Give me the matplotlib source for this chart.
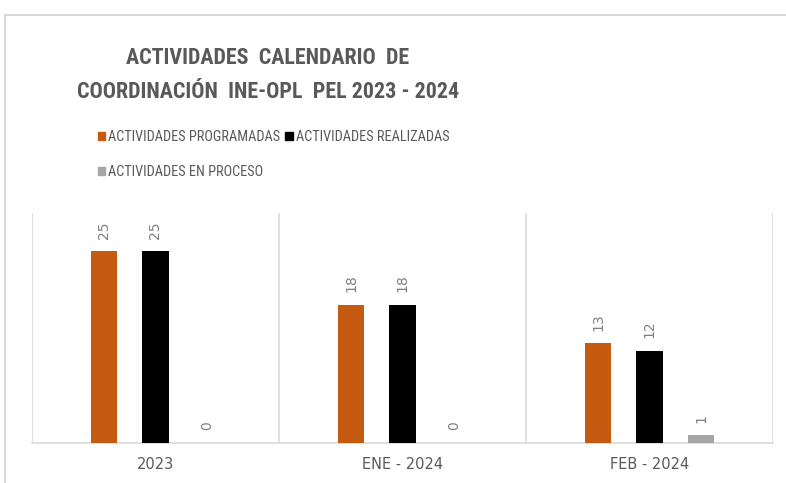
import matplotlib
matplotlib.use("Agg")
import matplotlib.pyplot as plt
from matplotlib import font_manager
from matplotlib.patches import Patch, Rectangle
import numpy as np

# Chart data
categories = ["2023", "ENE - 2024", "FEB - 2024"]
series_names = ["ACTIVIDADES PROGRAMADAS", "ACTIVIDADES REALIZADAS", "ACTIVIDADES EN PROCESO"]
programadas = [25, 18, 13]
realizadas = [25, 18, 12]
en_proceso = [0, 0, 1]
series_values = [programadas, realizadas, en_proceso]
series_colors = ["#C55A11", "#000000", "#A5A5A5"]
title_lines = ["ACTIVIDADES  CALENDARIO  DE", "COORDINACIÓN  INE-OPL  PEL 2023 - 2024"]

# look for a narrow/condensed font, the reference uses a Calibri-like face
fonts = font_manager.fontManager.ttflist
names = {f.name for f in fonts}
narrow, stretch = None, "normal"
for cand in ["Liberation Sans Narrow", "Roboto Condensed", "Open Sans Condensed", "Noto Sans Condensed"]:
    if cand in names:
        narrow = cand
        break
if narrow is None:
    cond = [f for f in fonts if f.stretch in ("condensed", "semi-condensed", "extra-condensed")]
    if cond:
        narrow, stretch = cond[0].name, "condensed"
    else:
        narrow = "DejaVu Sans"
plt.rcParams['font.family'] = [narrow, 'DejaVu Sans']
plt.rcParams['font.stretch'] = stretch
is_narrow = narrow != "DejaVu Sans" or stretch == "condensed"

W, H = 786, 483
fig = plt.figure(figsize=(W / 100, H / 100), dpi=100)

# outer chart border (clipped at right and bottom in the reference)
fig.patches.append(Rectangle((5 / W, -0.1), 1.2, 1.1 - 15 / H, transform=fig.transFigure,
                             fill=False, edgecolor="#D9D9D9", linewidth=1.5))

ax = fig.add_axes([32 / W, 1 - 443 / H, (773 - 32) / W, (443 - 213) / H])

x = np.arange(len(categories))
offset = 0.2085
width = 0.107
for j, (vals, color) in enumerate(zip(series_values, series_colors)):
    xs = x + (j - 1) * offset
    ax.bar(xs, vals, width=width, color=color, zorder=3)
    for xi, v in zip(xs, vals):
        ax.annotate(str(v), (xi, v), xytext=(0, 9.2), textcoords="offset points",
                    rotation=90, ha="center", va="bottom", fontsize=10,
                    family="DejaVu Sans", color="#808080")

ax.set_xlim(-0.5, len(categories) - 0.5)
ax.set_ylim(0, 30)

# category separators
for b in np.arange(len(categories) + 1) - 0.5:
    ax.axvline(b, color="#D9D9D9", linewidth=1.2, zorder=1)
for s in ax.spines.values():
    s.set_visible(False)
ax.spines['bottom'].set_visible(True)
ax.spines['bottom'].set_color("#D9D9D9")
ax.spines['bottom'].set_linewidth(1.2)

ax.set_yticks([])
ax.set_xticks(x)
ax.set_xticklabels(categories, fontsize=10.5, color="#595959", family="DejaVu Sans")
ax.tick_params(axis='x', length=0, pad=10)

# title
tsize = 15.8 if is_narrow else 12
fig.text(268 / W, 1 - 58 / H, title_lines[0], ha="center", va="center",
         fontsize=tsize, fontweight="bold", color="#595959")
fig.text(268 / W, 1 - 92 / H, title_lines[1], ha="center", va="center",
         fontsize=tsize, fontweight="bold", color="#595959")

# legend: reorder so row 1 = programadas, realizadas; row 2 = en proceso
handles = [Patch(color=c) for c in series_colors]
order = [0, 2, 1]
lsize = 10.3 if is_narrow else 8
fig.legend([handles[i] for i in order], [series_names[i] for i in order],
           loc="upper left", bbox_to_anchor=(98 / W, 1 - 130 / H), ncol=2,
           frameon=False, fontsize=lsize, labelcolor="#595959",
           handlelength=0.5, handleheight=0.5, handletextpad=0.22,
           columnspacing=0.35, labelspacing=1.45, borderpad=0, borderaxespad=0)

fig.savefig("out.png", dpi=100)
